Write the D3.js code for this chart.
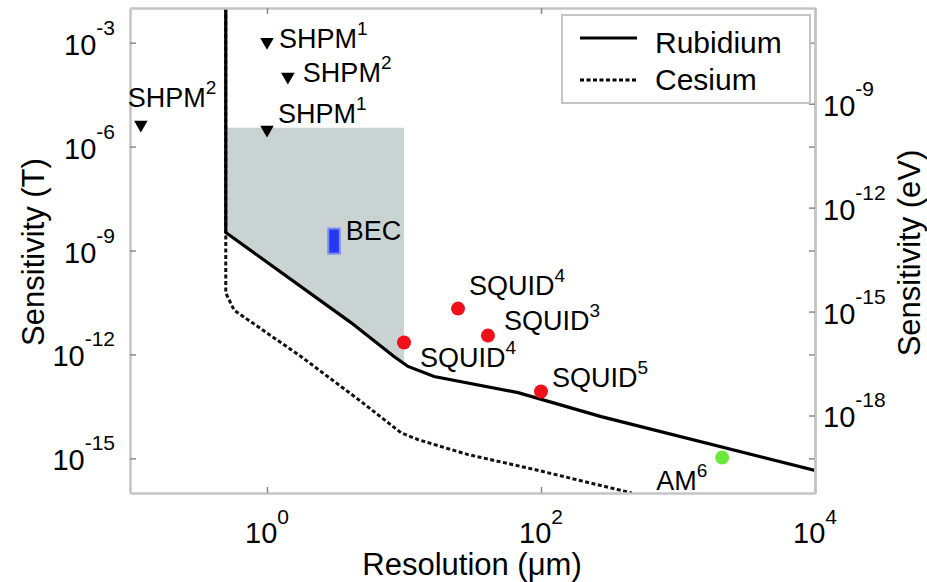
<!DOCTYPE html>
<html>
	<head>
		<meta charset="utf-8">
		<title>Sensitivity vs resolution</title>
		<style>
			body {
				margin: 0;
				background: #fff;
			}
			svg {
				display: block;
				font-family: "Liberation Sans", Arial, sans-serif;
			}
		</style>
	</head>
	<body>
		<svg></svg>

		<script src="https://d3js.org/d3.v7.min.js"></script>
		<script>
			// data (x in um, y in T)
			var rbX = [0.5, 0.5, 4.1, 8.45, 10.7, 16.6, 68, 275, 10000]
			var rbY = [1e-2, 3.3e-9, 8.3e-12, 8.7e-13, 4.5e-13, 2.3e-13, 7.9e-14, 1.6e-14, 4.5e-16]
			var csX = [0.5, 0.5, 0.575, 1.77, 4.85, 9.5, 12.6, 29, 89, 460]
			var csY = [1e-2, 6e-11, 1.9e-11, 8.7e-13, 4.4e-14, 5.5e-15, 3.5e-15, 1.3e-15, 4.8e-16, 1e-16]
			var shadeX = [0.5, 10, 10, 8.45, 4.1, 0.5]
			var shadeY = [3.5e-6, 3.5e-6, 5.8e-13, 8.7e-13, 8.3e-12, 3.3e-9]

			var shpmX = [0.12, 1.0, 1.42, 1.0]
			var shpmY = [4.3e-6, 1.05e-3, 1.05e-4, 3.1e-6]
			var shpmRef = ["2", "1", "2", "1"]
			var squidX = [10, 24.8, 41, 100]
			var squidY = [2.2e-12, 2.1e-11, 3.5e-12, 8.5e-14]
			var squidRef = ["4", "4", "3", "5"]
			var becX = [2.8, 3.4]
			var becY = [8.1e-10, 4.3e-9]
			var amX = [2100]
			var amY = [1.05e-15]

			var xTicks = [1, 100, 10000]
			var xTickExp = ["0", "2", "4"]
			var yTicks = [1e-3, 1e-6, 1e-9, 1e-12, 1e-15]
			var yTickExp = ["-3", "-6", "-9", "-12", "-15"]
			var eVTicks = [1e-9, 1e-12, 1e-15, 1e-18]
			var eVTickExp = ["-9", "-12", "-15", "-18"]
			var muB = 5.788e-5   // eV per T

			var legendNames = ["Rubidium", "Cesium"]

			// canvas
			var _width = 927
			var _height = 582
			var _svg = d3.select("svg").attr("width", _width).attr("height", _height)

			var pLeft = 130, pRight = 815, pTop = 8, pBottom = 493
			var x = d3.scaleLog().domain([0.1, 1e4]).range([pLeft, pRight])
			var y = d3.scaleLog().domain([1e-2, 1e-16]).range([pTop, pBottom])
			var yR = d3.scaleLog().domain([1e-2 * muB, 1e-16 * muB]).range([pTop, pBottom])

			var axisCol = "#c4c4c4"
			var tickCol = "#8a8a8a"
			var textCol = "#000"

			_svg.append("defs").append("clipPath").attr("id", "plot")
				.append("rect").attr("x", pLeft).attr("y", pTop)
				.attr("width", pRight - pLeft).attr("height", pBottom - pTop)

			var plot = _svg.append("g").attr("clip-path", "url(#plot)")

			// shaded region
			plot.append("path")
				.attr("d", d3.line().x(function (d, i) { return x(shadeX[i]) }).y(function (d, i) { return y(shadeY[i]) })(shadeX) + "Z")
				.attr("fill", "#c9d4d2")

			// cesium (dashed) then rubidium (solid)
			plot.append("path")
				.attr("d", d3.line().x(function (d, i) { return x(csX[i]) }).y(function (d, i) { return y(csY[i]) })(csX))
				.attr("fill", "none").attr("stroke", "#111").attr("stroke-width", 3)
				.attr("stroke-dasharray", "4,2.5")
			plot.append("path")
				.attr("d", d3.line().x(function (d, i) { return x(rbX[i]) }).y(function (d, i) { return y(rbY[i]) })(rbX))
				.attr("fill", "none").attr("stroke", "#000").attr("stroke-width", 3.2)

			// axes (box with inward ticks)
			function styleAxis(g) {
				g.select(".domain").attr("stroke", axisCol).attr("stroke-width", 2.5)
				g.selectAll(".tick line").attr("stroke", tickCol).attr("stroke-width", 1.5)
				g.selectAll(".tick text").remove()
			}
			_svg.append("g").attr("transform", "translate(0," + pBottom + ")")
				.call(d3.axisBottom(x).tickValues(xTicks).tickSizeInner(-6).tickSizeOuter(0)).call(styleAxis)
			_svg.append("g").attr("transform", "translate(0," + pTop + ")")
				.call(d3.axisTop(x).tickValues(xTicks).tickSizeInner(-6).tickSizeOuter(0)).call(styleAxis)
			_svg.append("g").attr("transform", "translate(" + pLeft + ",0)")
				.call(d3.axisLeft(y).tickValues(yTicks).tickSizeInner(-6).tickSizeOuter(0)).call(styleAxis)
			_svg.append("g").attr("transform", "translate(" + pRight + ",0)")
				.call(d3.axisRight(y).tickValues(yTicks).tickSizeInner(-6).tickSizeOuter(0)).call(styleAxis)
			_svg.append("g").attr("transform", "translate(" + pRight + ",0)")
				.call(d3.axisRight(yR).tickValues(eVTicks).tickSizeInner(-6).tickSizeOuter(0)).call(styleAxis)

			// tick labels with exponents
			function powLabel(sel, exps, raise) {
				sel.text("10")
				sel.append("tspan").attr("dy", -raise).attr("font-size", 21)
					.text(function (d, i) { return exps[i] })
			}
			_svg.append("g").selectAll("text").data(xTicks).join("text")
				.attr("x", function (d) { return x(d) }).attr("y", 543)
				.attr("text-anchor", "middle").attr("font-size", 29).attr("fill", textCol)
				.call(powLabel, xTickExp, 19)
			_svg.append("g").selectAll("text").data(yTicks).join("text")
				.attr("x", 115).attr("y", function (d) { return y(d) + 12 })
				.attr("text-anchor", "end").attr("font-size", 29).attr("fill", textCol)
				.call(powLabel, yTickExp, 20)
			_svg.append("g").selectAll("text").data(eVTicks).join("text")
				.attr("x", 823).attr("y", function (d) { return yR(d) + 12 })
				.attr("font-size", 29).attr("fill", textCol)
				.call(powLabel, eVTickExp, 20)

			// axis titles
			_svg.append("text").attr("x", 472).attr("y", 575).attr("text-anchor", "middle")
				.attr("font-size", 31).attr("fill", textCol).text("Resolution (\u03bcm)")
			_svg.append("text").attr("transform", "translate(44,252) rotate(-90)").attr("text-anchor", "middle")
				.attr("font-size", 31).attr("fill", textCol).text("Sensitivity (T)")
			_svg.append("text").attr("transform", "translate(920,253) rotate(-90)").attr("text-anchor", "middle")
				.attr("font-size", 31).attr("fill", textCol).text("Sensitivity (eV)")

			// markers
			var marks = _svg.append("g")
			marks.selectAll("path.shpm").data(shpmX).join("path").attr("class", "shpm")
				.attr("d", d3.symbol(d3.symbolTriangle, 80))
				.attr("transform", function (d, i) { return "translate(" + x(shpmX[i]) + "," + y(shpmY[i]) + ") rotate(180)" })
				.attr("fill", "#000")
			marks.append("rect")
				.attr("x", x(becX[0])).attr("y", y(becY[1]))
				.attr("width", x(becX[1]) - x(becX[0])).attr("height", y(becY[0]) - y(becY[1]))
				.attr("fill", "#2638f2").attr("stroke", "#7f8cf5").attr("stroke-width", 2)
			marks.selectAll("circle.squid").data(squidX).join("circle").attr("class", "squid")
				.attr("cx", function (d, i) { return x(squidX[i]) }).attr("cy", function (d, i) { return y(squidY[i]) })
				.attr("r", 7).attr("fill", "#f0101c")
			marks.selectAll("circle.am").data(amX).join("circle").attr("class", "am")
				.attr("cx", function (d, i) { return x(amX[i]) }).attr("cy", function (d, i) { return y(amY[i]) })
				.attr("r", 7).attr("fill", "#6be83a")

			// annotation labels (offsets from their marker)
			function note(px, py, name, ref) {
				var t = _svg.append("text").attr("x", px).attr("y", py)
					.attr("font-size", 27).attr("fill", textCol).text(name)
				if (ref) t.append("tspan").attr("dy", -13).attr("font-size", 19).text(ref)
			}
			var shpmDx = [-13, 12, 15, 11]
			var shpmDy = [-18, 6, 5, -7]
			shpmX.forEach(function (d, i) {
				note(x(shpmX[i]) + shpmDx[i], y(shpmY[i]) + shpmDy[i], "SHPM", shpmRef[i])
			})
			var squidDx = [16, 11, 16, 11]
			var squidDy = [24, -14, -6, -5]
			squidX.forEach(function (d, i) {
				note(x(squidX[i]) + squidDx[i], y(squidY[i]) + squidDy[i], "SQUID", squidRef[i])
			})
			note(x(becX[1]) + 6, 240, "BEC", null)
			note(x(amX[0]) - 66, y(amY[0]) + 32, "AM", "6")

			// legend
			var lg = _svg.append("g")
			lg.append("rect").attr("x", 562).attr("y", 15).attr("width", 248).attr("height", 88)
				.attr("fill", "#fff").attr("stroke", axisCol).attr("stroke-width", 2)
			lg.selectAll("line").data(legendNames).join("line")
				.attr("x1", 580).attr("x2", 637)
				.attr("y1", function (d, i) { return 38 + i * 42 }).attr("y2", function (d, i) { return 38 + i * 42 })
				.attr("stroke", "#000").attr("stroke-width", function (d, i) { return i ? 3 : 3.2 })
				.attr("stroke-dasharray", function (d, i) { return i ? "4,2.5" : null })
			lg.selectAll("text").data(legendNames).join("text")
				.attr("x", 655).attr("y", function (d, i) { return 53 + i * 37 })
				.attr("font-size", 30).attr("fill", textCol).text(function (d) { return d })
		</script>
	</body>
</html>
